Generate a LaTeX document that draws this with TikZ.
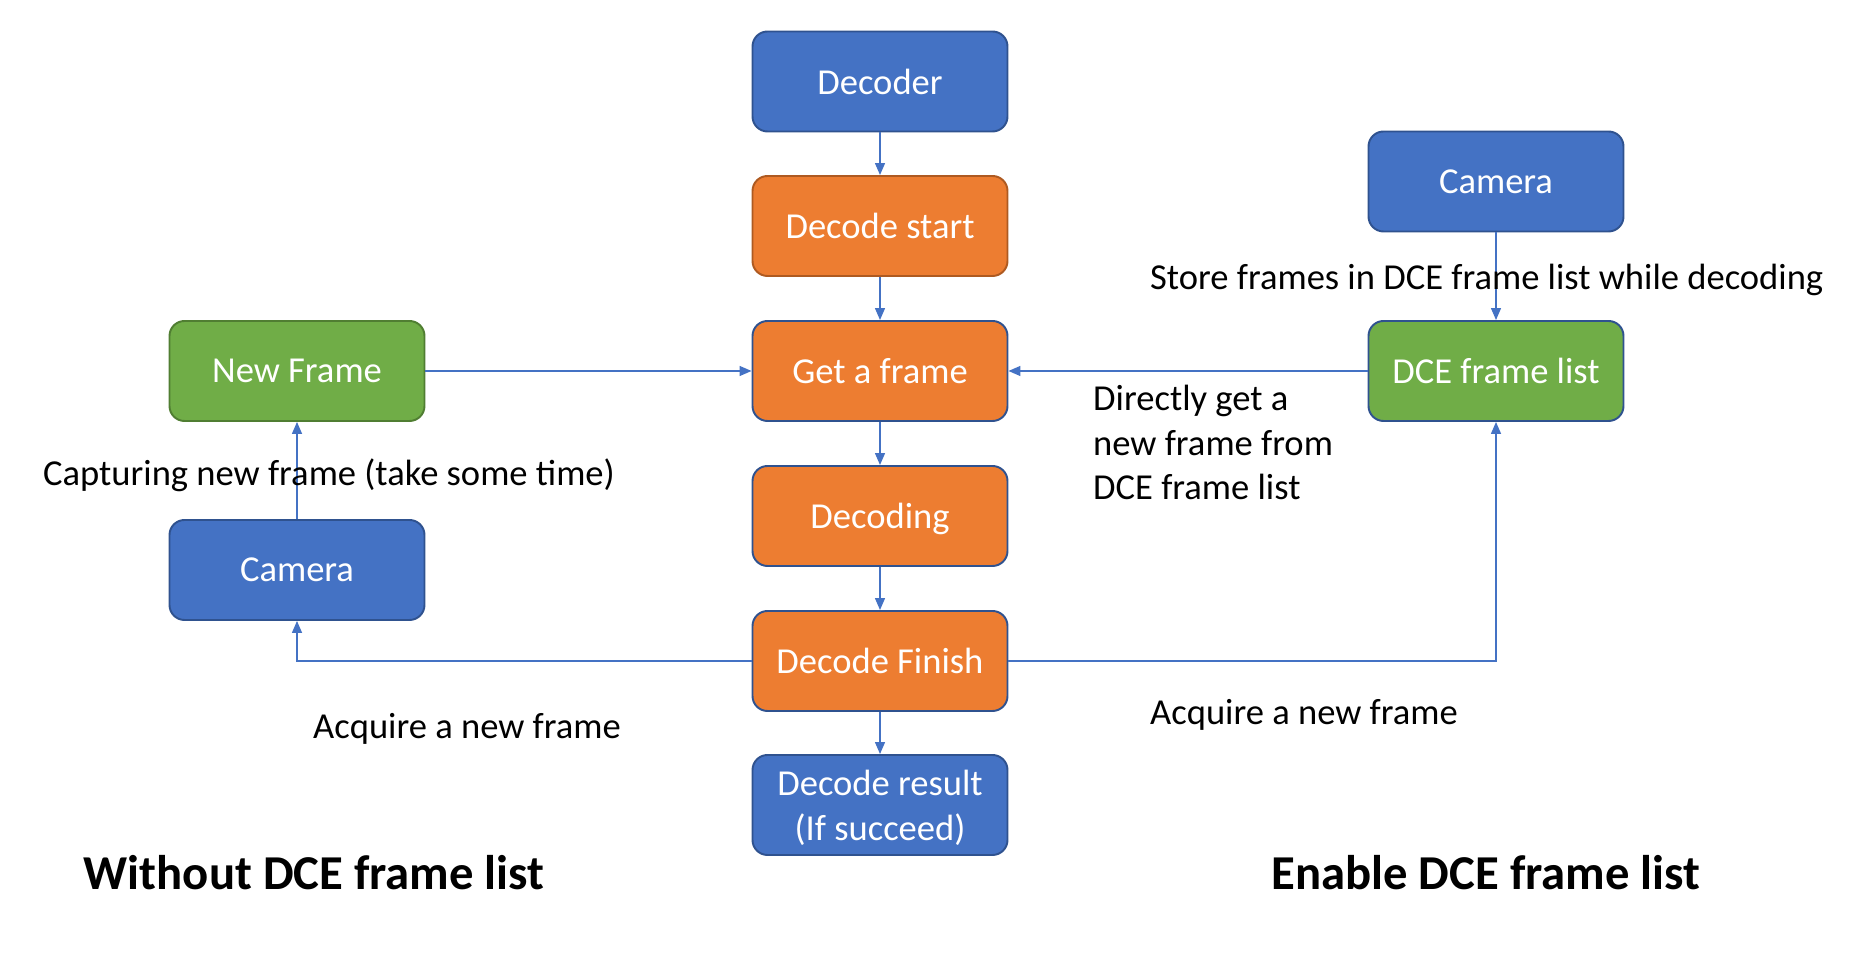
\documentclass[tikz,border=0pt]{standalone}
\usepackage{fontspec}
\setmainfont{Carlito}
\usetikzlibrary{arrows.meta}

\definecolor{boxblue}{HTML}{4472C4}
\definecolor{edgeblue}{HTML}{2F528F}
\definecolor{boxorange}{HTML}{ED7D31}
\definecolor{edgeorange}{HTML}{AE5A21}
\definecolor{boxgreen}{HTML}{70AD47}
\definecolor{edgegreen}{HTML}{507E32}

\tikzset{>={Triangle[length=0.24cm,width=0.2cm]}}
\tikzset{
	stage/.style={rectangle, rounded corners=0.3cm, minimum width=5.1cm, minimum height=2cm,
		line width=1.1pt, draw=edgeblue, text=white, align=center, text depth=0pt,
		font=\fontsize{20.8}{25.5}\selectfont},
	bluebox/.style={stage, fill=boxblue},
	orangebox/.style={stage, fill=boxorange},
	greenbox/.style={stage, fill=boxgreen},
	note/.style={text=black, align=left, font=\fontsize{20.8}{25.5}\selectfont},
	heading/.style={text=black, font=\fontsize{27.7}{33}\selectfont\bfseries},
	link/.style={->, draw=boxblue, line width=0.8pt}
}

\begin{document}
\begin{tikzpicture}
		
			\useasboundingbox (0,0) rectangle (37.34,19.38);
			
			\node[bluebox]   (decoder)  at (17.6,17.75) {Decoder};
			\node[orangebox, draw=edgeorange] (start) at (17.6,14.86) {Decode start};
			\node[orangebox] (getframe) at (17.6,11.96) {Get a frame};
			\node[orangebox] (decoding) at (17.6,9.06)  {Decoding};
			\node[orangebox] (finish)   at (17.6,6.16)  {Decode Finish};
			\node[bluebox]   (result)   at (17.6,3.28)  {Decode result\\(If succeed)};
			
			\node[greenbox, draw=edgegreen] (newframe) at (5.94,11.96) {New Frame};
			\node[bluebox]   (camleft)  at (5.94,7.98)  {Camera};
			
			\node[bluebox]   (camright) at (29.92,15.75) {Camera};
			\node[greenbox]  (dcelist)  at (29.92,11.96) {DCE frame list};
			
			\draw[link] (decoder) -- (start);
			\draw[link] (start) -- (getframe);
			\draw[link] (getframe) -- (decoding);
			\draw[link] (decoding) -- (finish);
			\draw[link] (finish) -- (result);
			
			\draw[link] (newframe) -- (getframe);
			\draw[link] (dcelist) -- (getframe);
			\draw[link] (camleft) -- (newframe);
			\draw[link] (camright) -- (dcelist);
			\draw[link] (finish) -| (camleft);
			\draw[link] (finish) -| (dcelist);
			
			\node[note, anchor=west] (capnote)    at (0.74,9.88)  {Capturing new frame (take some time)};
			\node[note, anchor=west] (acqleft)    at (6.14,4.81)  {Acquire a new frame};
			\node[note, anchor=west] (acqright)   at (22.88,5.09) {Acquire a new frame};
			\node[note, anchor=west] (storenote)  at (22.88,13.79) {Store frames in DCE frame list while decoding};
			\node[note, anchor=west] (directnote) at (21.74,10.53) {Directly get a\\new frame from\\DCE frame list};
			
			\node[heading, anchor=west] (without) at (1.55,1.92) {Without DCE frame list};
			\node[heading] (enable) at (29.72,1.92) {Enable DCE frame list};
			
		\end{tikzpicture}
\end{document}
